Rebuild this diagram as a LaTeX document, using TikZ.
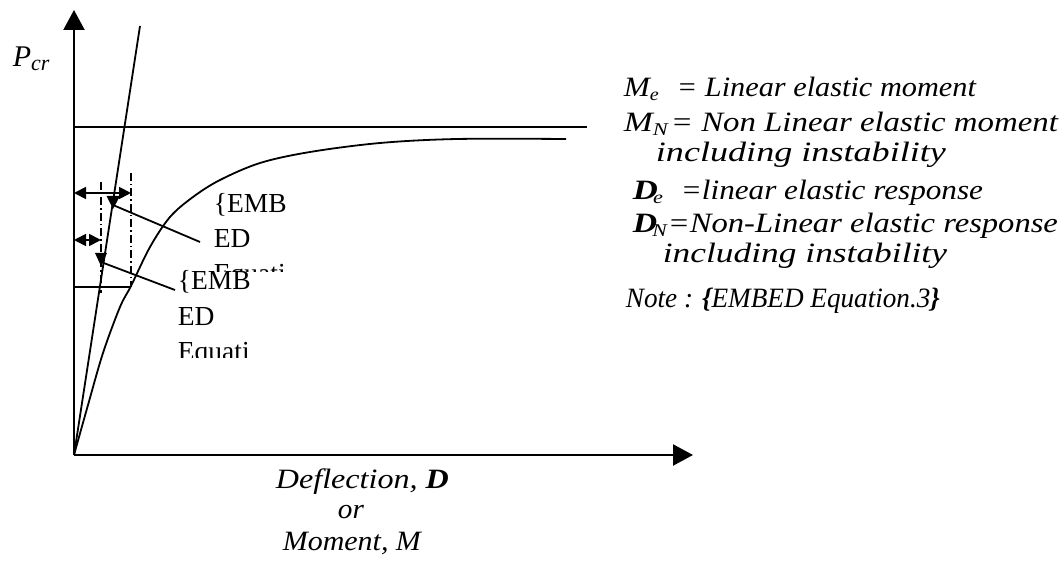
\documentclass[tikz,border=0pt]{standalone}
\usepackage{fontspec}
\setmainfont{Liberation Serif}
\usetikzlibrary{arrows.meta}
\newcommand{\fitto}[2]{\resizebox{#1}{\height}{#2}}
\begin{document}
\begin{tikzpicture}[x=1pt,y=-1pt, line width=1.8pt,
  lbl/.style={anchor=base west, inner sep=0pt, font=\fontsize{28}{32}\selectfont\itshape},
  emb/.style={anchor=base west, inner sep=0pt, font=\fontsize{27.5}{30}\selectfont},
  dashdot/.style={dash pattern=on 8pt off 3pt on 1.5pt off 3pt, line width=1.3pt},
  bigtip/.style={-{Triangle[length=20pt,width=21pt]}},
  dbl/.style={{Triangle[length=12pt,width=12pt]}-{Triangle[length=12pt,width=12pt]}}
]
\useasboundingbox (0,0) rectangle (1060,569);
% axes
\coordinate (O) at (74,455);
\coordinate (Ytop) at (74,10);
\coordinate (Xend) at (693,455);
\draw[bigtip, line width=2.2pt] (O) -- (Ytop);
\draw[bigtip, line width=2.2pt] (O) -- (Xend);
% linear response
\coordinate (Ltop) at (140,26);
\draw (O) -- (Ltop);
% critical load line
\coordinate (Ha) at (74,127);
\coordinate (Hb) at (587,127);
\draw (Ha) -- (Hb);
% nonlinear curve
\draw[line width=1.8pt] plot[smooth, tension=0.55] coordinates {(74,455) (88,405) (103,353) (120,307) (131,286) (150,247) (170,217) (193,197) (220,180) (260,163) (310,152) (380,143) (457,139) (566,139)};
% small rectangle and dash-dot verticals
\coordinate (Ra) at (74,287);
\coordinate (Rb) at (131,287);
\draw (Ra) -- (Rb);
\coordinate (Va1) at (101,182);
\coordinate (Va2) at (101,293);
\coordinate (Vb1) at (131,173);
\coordinate (Vb2) at (131,287);
\draw[dashdot] (Va1) -- (Va2);
\draw[dashdot] (Vb1) -- (Vb2);
% double arrows
\coordinate (Da1) at (74,193);
\coordinate (Da2) at (131,193);
\coordinate (Db1) at (74,240);
\coordinate (Db2) at (101,240);
\draw[dbl] (Da1) -- (Da2);
\draw[dbl] (Db1) -- (Db2);
% leader lines with downward triangles
\coordinate (T1) at (113,205);
\coordinate (T2) at (101,262);
\coordinate (E1) at (200,242);
\coordinate (E2) at (175,290);
\draw (E1) -- (T1);
\draw (E2) -- (T2);
\fill (106.5,196) -- (120,196) -- (113,209) -- cycle;
\fill (95,253) -- (107,253) -- (101,266) -- cycle;
% embedded placeholders (clipped)
\begin{scope}
\clip (150,150) rectangle (320,272);
\node[emb] (ea1) at (213,213) {\{EMB};
\node[emb] (ea2) at (213,248) {ED};
\node[emb] (ea3) at (213,283) {Equati};
\end{scope}
\begin{scope}
\clip (150,250) rectangle (320,357);
\node[emb] (eb1) at (177,290) {\{EMB};
\node[emb] (eb2) at (177,325) {ED};
\node[emb] (eb3) at (177,360) {Equati};
\end{scope}
% P_cr
\node[anchor=base west, inner sep=0pt, font=\fontsize{30}{32}\selectfont\itshape] (pcr) at (12,67) {P\raisebox{-4pt}{\fontsize{22}{24}\selectfont cr}};
% axis label
\node[lbl] (xl1) at (275,488) {\fitto{173pt}{Deflection, \textbf{D}}};
\node[lbl] (xl2) at (337,518) {\fitto{26pt}{or}};
\node[lbl] (xl3) at (282,550) {\fitto{138pt}{Moment, M}};
% legend
\node[lbl] (s1) at (623,97) {\fitto{35pt}{M\raisebox{-4pt}{\fontsize{18}{19}\selectfont e}}};
\node[lbl] (t1) at (676,97) {\fitto{299pt}{= Linear elastic moment}};
\node[lbl] (s2) at (623,132) {\fitto{44pt}{M\raisebox{-4pt}{\fontsize{18}{19}\selectfont N}}};
\node[lbl] (t2) at (670,132) {\fitto{387pt}{= Non Linear elastic moment}};
\node[lbl] (t3) at (655,162) {\fitto{290pt}{including instability}};
\node[lbl] (s4) at (632,200) {\fitto{30pt}{\textbf{D}\kern-4pt\raisebox{-4pt}{\fontsize{18}{19}\selectfont e}}};
\node[lbl] (t4) at (680,200) {\fitto{302pt}{=linear elastic response}};
\node[lbl] (s5) at (632,233) {\fitto{34pt}{\textbf{D}\kern-4pt\raisebox{-4pt}{\fontsize{18}{19}\selectfont N}}};
\node[lbl] (t5) at (667,233) {\fitto{390pt}{=Non-Linear elastic response}};
\node[lbl] (t6) at (662,263) {\fitto{284pt}{including instability}};
\node[lbl] (t7) at (625,308) {\fitto{314pt}{Note : \textbf{\{}EMBED Equation.3\textbf{\}}}};
\end{tikzpicture}
\end{document}
